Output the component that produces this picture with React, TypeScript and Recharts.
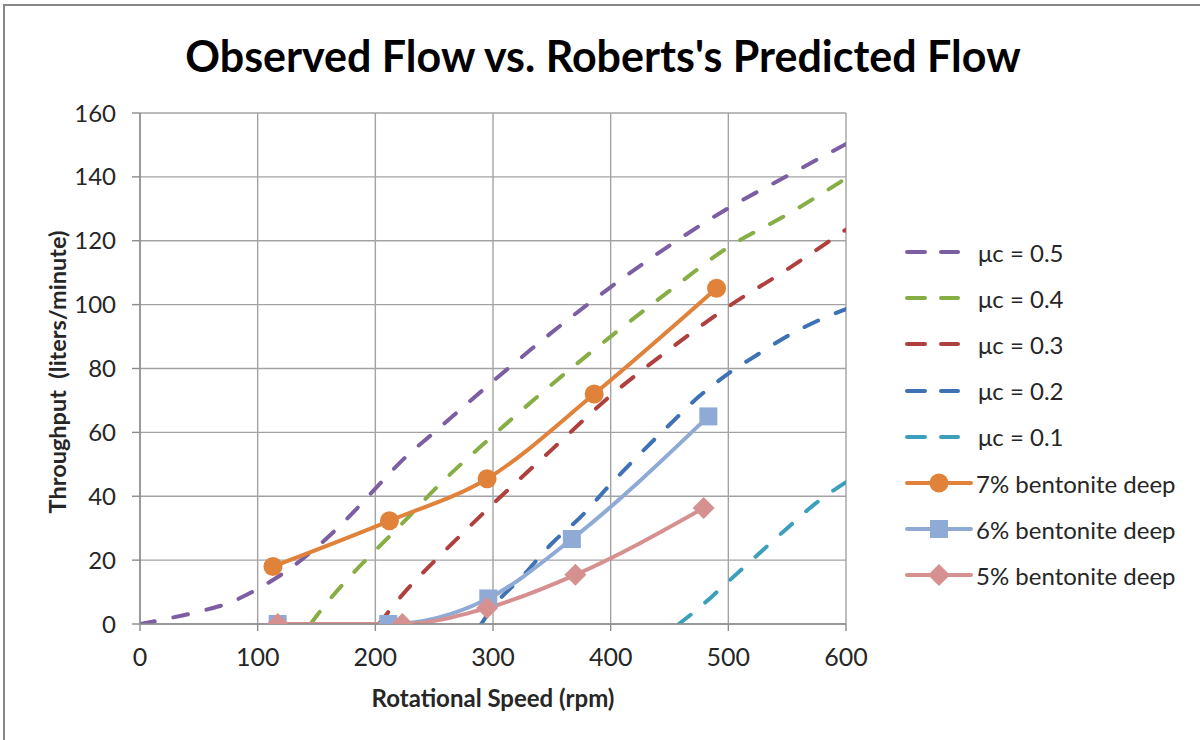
import { CartesianGrid, Line, LineChart, XAxis, YAxis } from 'recharts'

// Roberts's predicted flow curves (rpm -> liters/minute)
const mu05Rpm = [0, 25, 50, 75, 100, 125, 150, 175, 200, 225, 250, 300, 350, 400, 450, 500, 550, 600]
const mu05Flow = [0, 1.8, 3.9, 6.5, 11, 16.7, 24, 32.6, 42.4, 52, 60, 76, 91.3, 105.5, 118.5, 130.2, 140.3, 150.3]

const mu04Rpm = [145, 150, 175, 200, 225, 250, 300, 350, 400, 450, 500, 550, 600]
const mu04Flow = [0, 2.5, 13.5, 23, 32.3, 42, 59, 75, 90, 104.3, 118, 128.2, 139.5]

const mu03Rpm = [203, 225, 250, 275, 300, 350, 400, 450, 500, 550, 600]
const mu03Flow = [0, 10, 19.6, 28.7, 37.6, 54.6, 71.5, 86, 99.4, 111, 123.5]

const mu02Rpm = [290, 300, 325, 350, 375, 400, 425, 450, 475, 500, 525, 550, 575, 600]
const mu02Flow = [0, 5.3, 14.9, 25.2, 33.7, 43.8, 53.3, 62.4, 71.2, 78.4, 84.4, 90.1, 94.8, 98.6]

const mu01Rpm = [458, 475, 500, 525, 550, 575, 600]
const mu01Flow = [0, 5, 13.3, 21.7, 30, 38, 44.4]

// observed flow
const bent7Rpm = [113, 212, 295, 386, 490]
const bent7Flow = [18, 32.3, 45.5, 72, 105.1]

const bent6Rpm = [117, 211, 296, 367, 483]
const bent6Flow = [0, 0, 8, 26.6, 65]

const bent5Rpm = [117, 223, 295, 370, 479]
const bent5Flow = [0, 0, 5, 15.4, 36.3]

const xTicks = [0, 100, 200, 300, 400, 500, 600]
const yTicks = [0, 20, 40, 60, 80, 100, 120, 140, 160]

const toPoints = (xs: number[], ys: number[]) => xs.map((x, i) => ({ x, y: ys[i] }))

const FONT = 'Lato, "Open Sans", sans-serif'

const predicted = [
  { name: 'μc = 0.5', color: '#7c5fa3', data: toPoints(mu05Rpm, mu05Flow) },
  { name: 'μc = 0.4', color: '#86ae45', data: toPoints(mu04Rpm, mu04Flow) },
  { name: 'μc = 0.3', color: '#b0403d', data: toPoints(mu03Rpm, mu03Flow) },
  { name: 'μc = 0.2', color: '#3e72b4', data: toPoints(mu02Rpm, mu02Flow) },
  { name: 'μc = 0.1', color: '#3c9fbc', data: toPoints(mu01Rpm, mu01Flow) },
]

type Shape = 'circle' | 'square' | 'diamond'

const observed: { name: string; color: string; shape: Shape; data: { x: number; y: number }[] }[] = [
  { name: '7% bentonite deep', color: '#e0823a', shape: 'circle', data: toPoints(bent7Rpm, bent7Flow) },
  { name: '6% bentonite deep', color: '#8eaad5', shape: 'square', data: toPoints(bent6Rpm, bent6Flow) },
  { name: '5% bentonite deep', color: '#d69090', shape: 'diamond', data: toPoints(bent5Rpm, bent5Flow) },
]

function marker(shape: Shape, color: string, cx: number, cy: number, key?: string) {
  if (shape === 'circle') return <circle key={key} cx={cx} cy={cy} r={9.5} fill={color} />
  if (shape === 'square')
    return <rect key={key} x={cx - 9} y={cy - 9} width={18} height={18} fill={color} />
  return (
    <polygon
      key={key}
      points={`${cx},${cy - 11} ${cx + 11},${cy} ${cx},${cy + 11} ${cx - 11},${cy}`}
      fill={color}
    />
  )
}

function LegendBox() {
  const rows = [...predicted.map((p) => ({ ...p, shape: null as Shape | null })), ...observed]
  return (
    <div style={{ position: 'absolute', left: 900, top: 229, fontFamily: FONT }}>
      {rows.map((r) => (
        <div key={r.name} style={{ display: 'flex', alignItems: 'center', height: 46.2 }}>
          <svg width={74} height={24}>
            {r.shape ? (
              <>
                <line x1={7} y1={12} x2={71} y2={12} stroke={r.color} strokeWidth={4} strokeLinecap="round" />
                {marker(r.shape, r.color, 39, 12)}
              </>
            ) : (
              <>
                <line x1={7} y1={12} x2={25} y2={12} stroke={r.color} strokeWidth={4} strokeLinecap="round" />
                <line x1={41} y1={12} x2={58} y2={12} stroke={r.color} strokeWidth={4} strokeLinecap="round" />
              </>
            )}
          </svg>
          <span style={{ fontSize: 24, color: '#262626', marginLeft: r.shape ? 2 : 4 }}>{r.name}</span>
        </div>
      ))}
    </div>
  )
}

export default function App() {
  return (
    <div style={{ position: 'absolute', left: 0, top: 0, width: 1200, height: 740, overflow: 'hidden', background: '#fff' }}>
      <div
        style={{
          position: 'absolute',
          left: 3,
          top: 4,
          width: 1300,
          height: 900,
          border: '2px solid #888',
          boxSizing: 'border-box',
        }}
      />
      <div
        style={{
          position: 'absolute',
          left: 0,
          width: 1206,
          top: 30,
          textAlign: 'center',
          fontFamily: FONT,
          fontWeight: 700,
          fontSize: 43,
          lineHeight: '52px',
          color: '#000',
        }}
      >
        Observed Flow vs. Roberts's Predicted Flow
      </div>
      <div
        style={{
          position: 'absolute',
          left: 57,
          top: 372,
          transform: 'translate(-50%, -50%) rotate(-90deg)',
          whiteSpace: 'nowrap',
          fontFamily: FONT,
          fontWeight: 700,
          fontSize: 23.5,
          color: '#262626',
        }}
      >
        Throughput&nbsp; (liters/minute)
      </div>
      <div
        style={{
          position: 'absolute',
          left: 493,
          top: 697,
          transform: 'translate(-50%, -50%)',
          whiteSpace: 'nowrap',
          fontFamily: FONT,
          fontWeight: 700,
          fontSize: 24,
          color: '#262626',
        }}
      >
        Rotational Speed (rpm)
      </div>
      <div style={{ position: 'absolute', left: 0, top: 0 }}>
        <LineChart width={1200} height={740} margin={{ top: 113, right: 354, bottom: 76, left: 80 }}>
          <CartesianGrid stroke="#a3a3a3" strokeWidth={1.4} />
          <XAxis
            type="number"
            dataKey="x"
            domain={[0, 600]}
            ticks={xTicks}
            allowDataOverflow
            height={40}
            tickSize={7}
            tickMargin={17}
            stroke="#8c8c8c"
            strokeWidth={1.4}
            tick={{ fontSize: 25, fill: '#262626', fontFamily: FONT }}
          />
          <YAxis
            type="number"
            dataKey="y"
            domain={[0, 160]}
            ticks={yTicks}
            allowDataOverflow
            width={60}
            tickSize={8}
            tickMargin={16}
            stroke="#8c8c8c"
            strokeWidth={1.4}
            tick={{ fontSize: 24, fill: '#262626', fontFamily: FONT }}
          />
          {predicted.map((p) => (
            <Line
              key={p.name}
              data={p.data}
              dataKey="y"
              name={p.name}
              type="monotone"
              stroke={p.color}
              strokeWidth={4}
              strokeDasharray="15 19"
              strokeLinecap="round"
              dot={false}
              activeDot={false}
              isAnimationActive={false}
            />
          ))}
          {observed.map((o) => (
            <Line
              key={o.name}
              data={o.data}
              dataKey="y"
              name={o.name}
              type="monotone"
              stroke={o.color}
              strokeWidth={4}
              dot={(props: any) => marker(o.shape, o.color, props.cx, props.cy, `${o.name}-${props.index}`)}
              activeDot={false}
              isAnimationActive={false}
            />
          ))}
        </LineChart>
      </div>
      <LegendBox />
    </div>
  )
}
